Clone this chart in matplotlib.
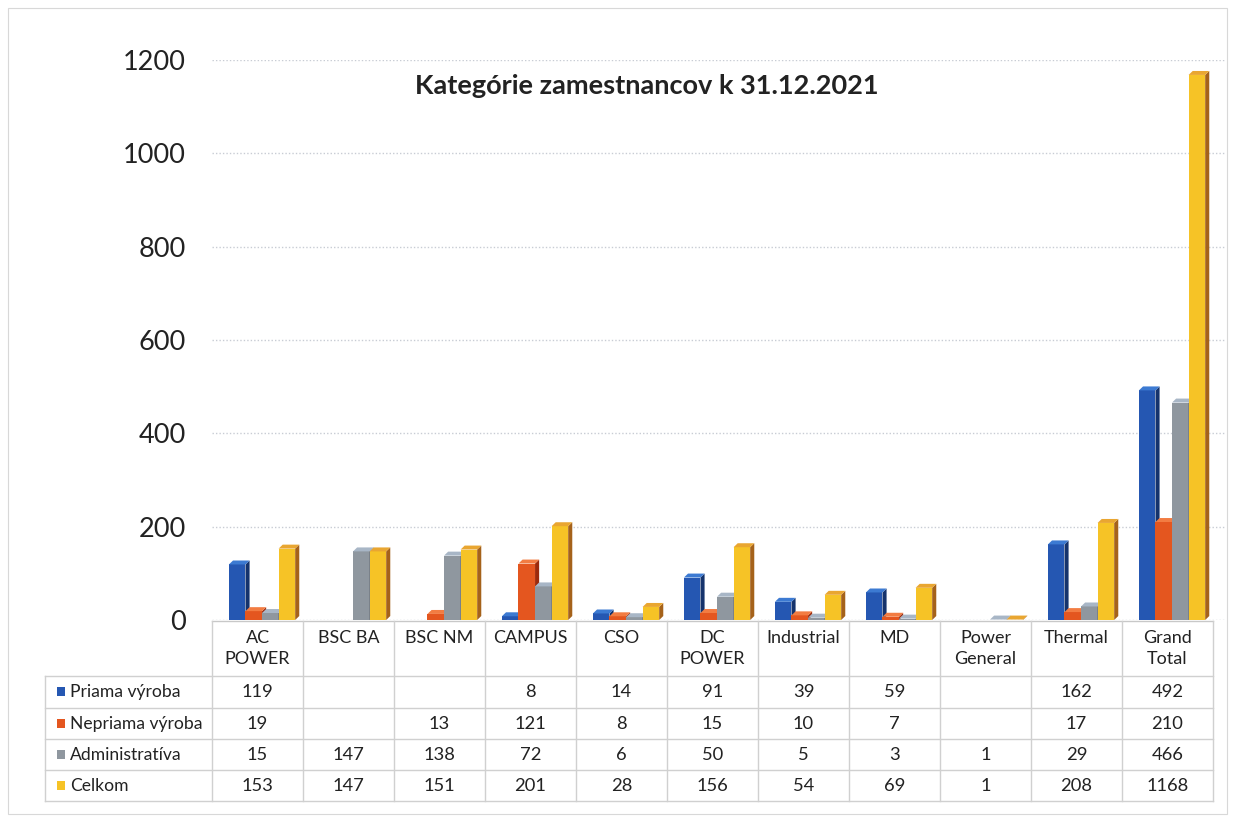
import numpy as np
import matplotlib.pyplot as plt
from matplotlib.patches import Rectangle, Polygon

plt.rcParams['font.family'] = ['Lato', 'DejaVu Sans']

# data
categories = ['AC\nPOWER', 'BSC BA', 'BSC NM', 'CAMPUS', 'CSO', 'DC\nPOWER',
              'Industrial', 'MD', 'Power\nGeneral', 'Thermal', 'Grand\nTotal']
series = ['Priama výroba', 'Nepriama výroba', 'Administratíva', 'Celkom']
priama = [119, None, None, 8, 14, 91, 39, 59, None, 162, 492]
nepriama = [19, None, 13, 121, 8, 15, 10, 7, None, 17, 210]
admin = [15, 147, 138, 72, 6, 50, 5, 3, 1, 29, 466]
celkom = [153, 147, 151, 201, 28, 156, 54, 69, 1, 208, 1168]
values = [priama, nepriama, admin, celkom]
yticks = [0, 200, 400, 600, 800, 1000, 1200]

# front, side, top colours
colors = [('#2557B2', '#15336C', '#3C7AD2'),
          ('#E4561F', '#9C2A0C', '#F27C42'),
          ('#8F979F', '#5A6068', '#A8B6C6'),
          ('#F6C326', '#A5621A', '#E9A631')]

W, H = 1237, 822
fig = plt.figure(figsize=(W / 100, H / 100), dpi=100)

# pixel-space layer for table and frame
bg = fig.add_axes([0, 0, 1, 1])
bg.set_xlim(0, W)
bg.set_ylim(H, 0)
bg.axis('off')
bg.add_patch(Rectangle((8, 8), W - 18, H - 16, fill=False, ec='#d8d8d8', lw=0.8))

# main bar axes
x_left, x_right, y0, y1200 = 212, 1226, 620, 60
colw = 91
n = len(categories)
ax = fig.add_axes([x_left / W, (H - y0) / H, (x_right - x_left) / W, (y0 - y1200) / H])
ax.patch.set_alpha(0)
ax.set_xlim(-0.5, -0.5 + (x_right - x_left) / colw)
ax.set_ylim(0, 1200)
for s in ax.spines.values():
    s.set_visible(False)
ax.set_xticks([])
ax.set_yticks(yticks)
ax.tick_params(axis='y', length=0, pad=19, labelsize=19.5, labelcolor='#222222')
ax.grid(axis='y', color='#c8ccd4', linestyle=(0, (1, 1.5)), linewidth=1)
ax.set_axisbelow(True)

bw = 0.182
dx, dy = 0.045, 8.5
for i in range(n):
    start = i - 2 * bw + 0.05
    for k in range(4):
        h = values[k][i]
        if not h:
            continue
        x0 = start + k * bw
        fc, sc, tc = colors[k]
        ax.add_patch(Rectangle((x0, 0), bw, h, fc=fc, ec='none', zorder=3 + k))
        ax.add_patch(Polygon([(x0 + bw, 0), (x0 + bw + dx, dy), (x0 + bw + dx, h + dy), (x0 + bw, h)],
                             closed=True, fc=sc, ec='none', zorder=3 + k))
        ax.add_patch(Polygon([(x0, h), (x0 + dx, h + dy), (x0 + bw + dx, h + dy), (x0 + bw, h)],
                             closed=True, fc=tc, ec='none', zorder=3 + k))

fig.text(647 / W, 1 - 86 / H, 'Kategórie zamestnancov k 31.12.2021',
         ha='center', va='center', fontsize=19.5, fontweight='bold', color='#222222')

# table
lc = '#d0d0d0'
row_y = [676, 708, 739, 770, 801]
tab_left = 45
col_x = [x_left + colw * j for j in range(n + 1)]
bg.plot([x_left, col_x[-1]], [y0 + 1, y0 + 1], color='#c8c8c8', lw=1)
for y in row_y:
    bg.plot([tab_left, col_x[-1]], [y, y], color=lc, lw=1)
bg.plot([tab_left, tab_left], [row_y[0], row_y[-1]], color=lc, lw=1)
for x in col_x:
    bg.plot([x, x], [y0 + 1, row_y[-1]], color=lc, lw=1)

for j, lab in enumerate(categories):
    bg.text(col_x[j] + colw / 2, 630, lab, ha='center', va='top', fontsize=13,
            linespacing=1.4, color='#222222')

for k, name in enumerate(series):
    yc = (row_y[k] + row_y[k + 1]) / 2
    bg.add_patch(Rectangle((57, yc - 5), 8, 9, fc=colors[k][0], ec='none'))
    bg.text(70, yc, name, ha='left', va='center', fontsize=12.6, color='#222222')
    for j in range(n):
        v = values[k][j]
        if v:
            bg.text(col_x[j] + colw / 2, yc, str(v), ha='center', va='center',
                    fontsize=13.2, color='#222222')

fig.savefig('out.png', dpi=100)
